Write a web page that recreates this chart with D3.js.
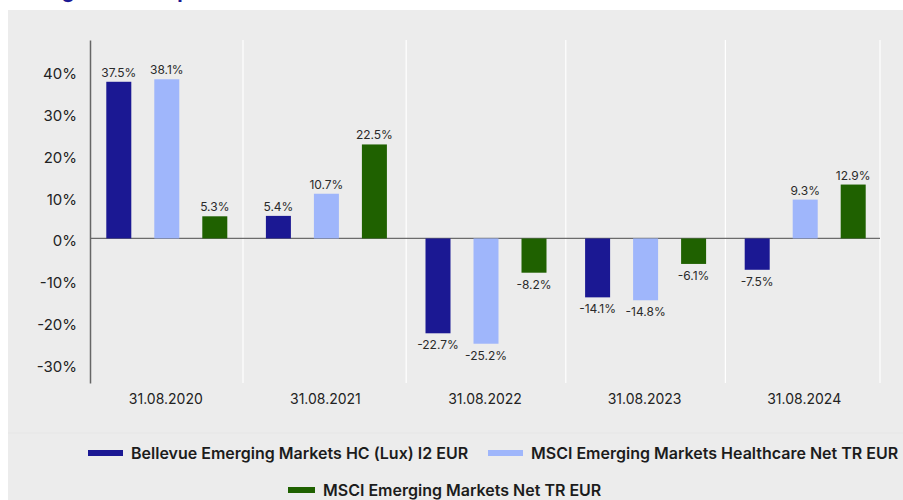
<!DOCTYPE html>
<html>
<head>
<meta charset="utf-8">
<script src="https://cdn.jsdelivr.net/npm/d3@7"></script>
<style>
  body { margin: 0; background: #fff; font-family: Inter, "Noto Sans", sans-serif; }
</style>
</head>
<body>
<script>
// data
var CATEGORIES = ["31.08.2020", "31.08.2021", "31.08.2022", "31.08.2023", "31.08.2024"];
var SERIES = ["Bellevue Emerging Markets HC (Lux) I2 EUR",
              "MSCI Emerging Markets Healthcare Net TR EUR",
              "MSCI Emerging Markets Net TR EUR"];
var FUND = [37.5, 5.4, -22.7, -14.1, -7.5];
var HEALTHCARE = [38.1, 10.7, -25.2, -14.8, 9.3];
var EM_INDEX = [5.3, 22.5, -8.2, -6.1, 12.9];
var Y_TICKS = [-30, -20, -10, 0, 10, 20, 30, 40];

var COLORS = ["#1b1893", "#9fb6fb", "#1f6100"];
var VALUES = [FUND, HEALTHCARE, EM_INDEX];

var W = 903, H = 500;
var svg = d3.select("body").append("svg")
    .attr("width", W)
    .attr("height", H);

// title (cut off at top edge, as in the source)
svg.append("text")
    .attr("x", 8)
    .attr("y", -2)
    .attr("fill", "#1b1893")
    .attr("font-size", 20)
    .attr("font-weight", 700)
    .text("Rolling 12-month performance");

// panel background
svg.append("rect")
    .attr("x", 8).attr("y", 10)
    .attr("width", W - 8).attr("height", H - 10)
    .attr("fill", "#ececec");
svg.append("line")
    .attr("x1", 8).attr("x2", W)
    .attr("y1", 433).attr("y2", 433)
    .attr("stroke", "#e6e6e6");

// scales
var xScale = d3.scaleBand().domain(CATEGORIES).range([87, 885]);
var yScale = d3.scaleLinear().domain([-34.6, 47.5]).range([383, 40]);
var offsets = [-48, 0, 48];
var barW = 25;

// vertical separators
var seps = CATEGORIES.slice(0, 4).map(function (c) { return xScale(c) + xScale.bandwidth(); });
seps[0] = 243;
seps.push(880);
svg.append("g").selectAll("line")
    .data(seps)
    .join("line")
    .attr("x1", function (d) { return d; })
    .attr("x2", function (d) { return d; })
    .attr("y1", 40).attr("y2", 383)
    .attr("stroke", "#ffffff")
    .attr("stroke-width", 1.2);

// zero line
svg.append("line")
    .attr("x1", 90).attr("x2", 880)
    .attr("y1", yScale(0)).attr("y2", yScale(0))
    .attr("stroke", "#6b6b6b")
    .attr("stroke-width", 1.3);

// y axis
var yAxis = d3.axisLeft(yScale)
    .tickValues(Y_TICKS)
    .tickSize(0)
    .tickPadding(13)
    .tickFormat(function (d) { return d + "%"; });
var yg = svg.append("g")
    .attr("transform", "translate(90,0)")
    .call(yAxis);
yg.select(".domain").attr("stroke", "#666").attr("stroke-width", 1.5);
yg.selectAll("text")
    .attr("font-family", "Inter, sans-serif")
    .attr("font-size", 15)
    .attr("fill", "#222")
    .attr("dy", "0.5em");

// x axis labels
var xAxis = d3.axisBottom(xScale).tickSize(0).tickPadding(0);
var xg = svg.append("g")
    .attr("transform", "translate(0,400)")
    .call(xAxis);
xg.select(".domain").remove();
xg.selectAll("text")
    .attr("font-family", "Inter, sans-serif")
    .attr("font-size", 14)
    .attr("fill", "#222")
    .attr("dx", "-1")
    .attr("dy", "0.3em");

// bars
VALUES.forEach(function (vals, s) {
    var g = svg.append("g");
    g.selectAll("rect")
        .data(vals)
        .join("rect")
        .attr("x", function (d, i) {
            return xScale(CATEGORIES[i]) + xScale.bandwidth() / 2 + offsets[s] - barW / 2;
        })
        .attr("y", function (d) { return yScale(Math.max(0, d)); })
        .attr("width", barW)
        .attr("height", function (d) { return Math.abs(yScale(d) - yScale(0)); })
        .attr("fill", COLORS[s]);
    g.selectAll("text")
        .data(vals)
        .join("text")
        .attr("x", function (d, i) {
            return xScale(CATEGORIES[i]) + xScale.bandwidth() / 2 + offsets[s];
        })
        .attr("y", function (d) { return d >= 0 ? yScale(d) - 5 : yScale(d) + 16; })
        .attr("text-anchor", "middle")
        .attr("font-size", 12)
        .attr("fill", "#2a2a2a")
        .text(function (d) { return d.toFixed(1) + "%"; });
});

// legend
var LEGEND_POS = [[88, 453], [488, 453], [288, 490]];
var lg = svg.append("g").selectAll("g")
    .data(SERIES)
    .join("g")
    .attr("transform", function (d, i) {
        return "translate(" + LEGEND_POS[i][0] + "," + LEGEND_POS[i][1] + ")";
    });
lg.append("rect")
    .attr("x", 0).attr("y", -3)
    .attr("width", function (d, i) { return i === 2 ? 27 : 35; })
    .attr("height", 6)
    .attr("fill", function (d, i) { return COLORS[i]; });
lg.append("text")
    .attr("x", function (d, i) { return i === 2 ? 35 : 43; })
    .attr("y", 0)
    .attr("dy", "0.36em")
    .attr("font-size", 16)
    .attr("font-weight", 600)
    .attr("fill", "#1c1c1c")
    .text(function (d) { return d; });
</script>
</body>
</html>
